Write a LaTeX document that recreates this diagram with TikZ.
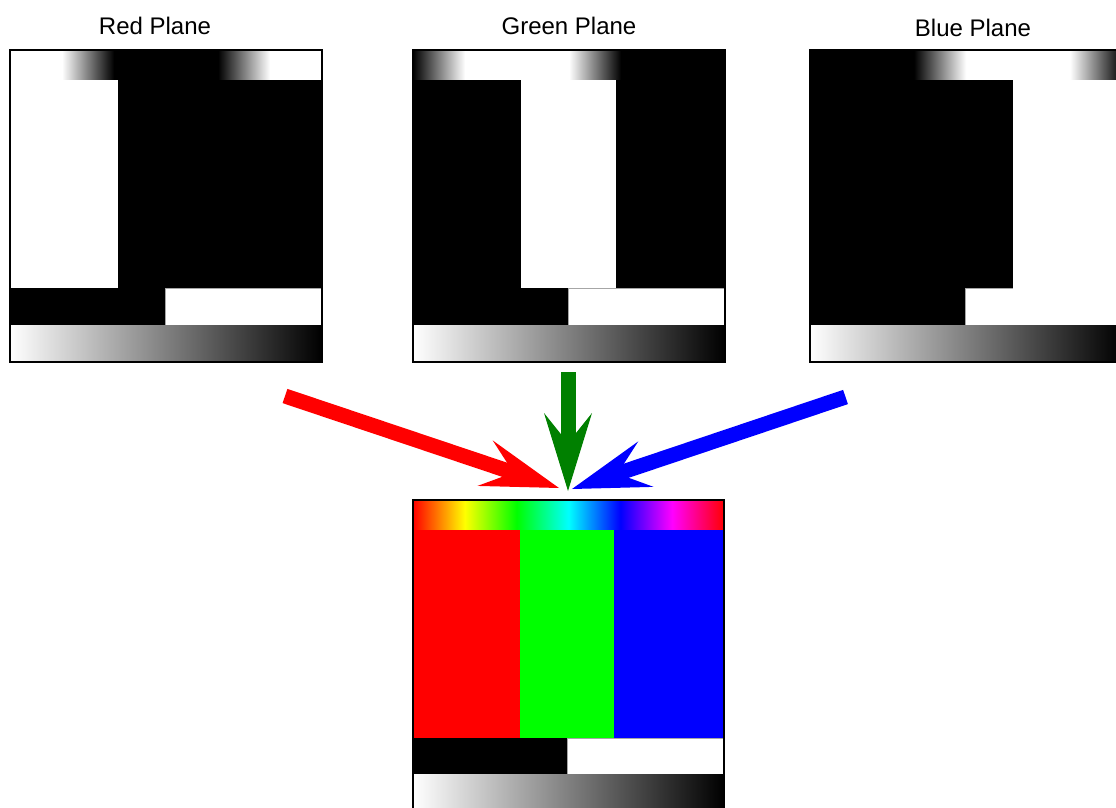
\documentclass[tikz,border=0pt]{standalone}
\usepackage{fontspec}
\setmainfont{Liberation Sans}
\usetikzlibrary{calc}

% Channel profiles of a hue sweep (the 25bp--75bp span fills the path)
\pgfdeclarehorizontalshading{redchannel}{100bp}{color(0bp)=(white); color(33.333bp)=(white); color(41.667bp)=(black); color(58.333bp)=(black); color(66.667bp)=(white); color(100bp)=(white)}
\pgfdeclarehorizontalshading{greenchannel}{100bp}{color(0bp)=(black); color(25bp)=(black); color(33.333bp)=(white); color(50bp)=(white); color(58.333bp)=(black); color(100bp)=(black)}
\pgfdeclarehorizontalshading{bluechannel}{100bp}{color(0bp)=(black); color(41.667bp)=(black); color(50bp)=(white); color(66.667bp)=(white); color(75bp)=(black); color(100bp)=(black)}
\pgfdeclarehorizontalshading{huesweep}{100bp}{color(0bp)=(red); color(25bp)=(red); color(33.333bp)=(yellow); color(41.667bp)=(green); color(50bp)=(cyan); color(58.333bp)=(blue); color(66.667bp)=(magenta); color(75bp)=(red); color(100bp)=(red)}

\definecolor{arrowgreen}{rgb}{0,0.5,0}

\tikzset{
  panelframe/.style={draw=black, line width=1.8pt},
  whitecell/.style={fill=white, draw=gray!70, line width=0.8pt},
  graybar/.style={left color=white, right color=black},
  planetitle/.style={font=\fontsize{24}{28}\selectfont, anchor=base, inner sep=0pt},
}

% thick arrow: shaft plus swept-back head; #1 colour, #2 tail, #3 tip
\newcommand\mixarrow[3]{%
  \path ($(#3)!78pt!(#2)$) coordinate (#1-back)
        ($(#3)!48pt!(#2)$) coordinate (#1-notch);
  \draw[#1, line width=15pt] (#2) -- ($(#3)!40pt!(#2)$);
  \fill[#1] (#3) -- ($(#1-back)!24pt!90:(#3)$) -- (#1-notch)
        -- ($(#1-back)!24pt!-90:(#3)$) -- cycle;
}

\begin{document}
\begin{tikzpicture}[x=1pt,y=-1pt]
\clip (0,0) rectangle (1116,808);
\fill[white] (0,0) rectangle (1116,808);

% titles
\node[planetitle] (redtitle) at (155,35) {Red Plane};
\node[planetitle] (greentitle) at (569,35) {Green Plane};
\node[planetitle] (bluetitle) at (973,37) {Blue Plane};

% red plane
\begin{scope}[shift={(10,50)}]
  \shade[shading=redchannel] (0,0) rectangle (312,30);
  \fill[white] (0,30) rectangle (107.5,238);
  \fill[black] (107.5,30) rectangle (312,238);
  \fill[black] (0,238) rectangle (155,275);
  \draw[whitecell] (155,238) rectangle (312,275);
  \shade[graybar] (0,275) rectangle (312,312);
  \draw[panelframe] (0,0) rectangle (312,312);
\end{scope}

% green plane
\begin{scope}[shift={(413,50)}]
  \shade[shading=greenchannel] (0,0) rectangle (312,30);
  \fill[black] (0,30) rectangle (107.5,238);
  \fill[white] (107.5,30) rectangle (202.5,238);
  \fill[black] (202.5,30) rectangle (312,238);
  \fill[black] (0,238) rectangle (155,275);
  \draw[whitecell] (155,238) rectangle (312,275);
  \shade[graybar] (0,275) rectangle (312,312);
  \draw[panelframe] (0,0) rectangle (312,312);
\end{scope}

% blue plane (white column runs on into the white cell below it)
\begin{scope}[shift={(810,50)}]
  \shade[shading=bluechannel] (0,0) rectangle (312,30);
  \fill[black] (0,30) rectangle (202.5,238);
  \fill[black] (0,238) rectangle (155,275);
  \draw[whitecell] (155,238) rectangle (312,275);
  \fill[white] (202.5,30) rectangle (312,238.6);
  \fill[white] (155.5,238.6) rectangle (312,274);
  \shade[graybar] (0,275) rectangle (312,312);
  \draw[panelframe] (0,0) rectangle (312,312);
\end{scope}

% combined colour image
\begin{scope}[shift={(413,500)}]
  \shade[shading=huesweep] (0,0) rectangle (311,30);
  \fill[red] (0,30) rectangle (106.5,238);
  \fill[green] (106.5,30) rectangle (200.5,238);
  \fill[blue] (200.5,30) rectangle (311,238);
  \fill[black] (0,238) rectangle (154,274);
  \draw[whitecell] (154,238) rectangle (311,274);
  \shade[graybar] (0,274) rectangle (311,311);
  \draw[panelframe] (0,0) rectangle (311,311);
\end{scope}

% arrows into the combined image
\coordinate (redtail) at (285,396);
\coordinate (redtip) at (559,488);
\coordinate (greentail) at (568,372);
\coordinate (greentip) at (568,491);
\coordinate (bluetail) at (845.5,397);
\coordinate (bluetip) at (572,489);
\mixarrow{red}{redtail}{redtip}
\mixarrow{arrowgreen}{greentail}{greentip}
\mixarrow{blue}{bluetail}{bluetip}
\end{tikzpicture}
\end{document}
